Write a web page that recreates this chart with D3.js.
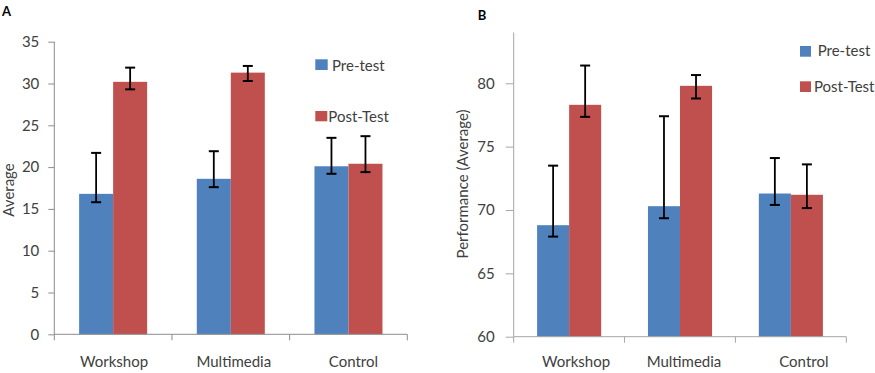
<!DOCTYPE html>
<html><head><meta charset="utf-8">
<script src="https://cdn.jsdelivr.net/npm/d3@7"></script>
<style>
html,body{margin:0;padding:0;background:#fff;}
text{font-family:Lato, "Open Sans", sans-serif;fill:#404040;}
</style></head>
<body><svg id="chart" width="875" height="373"></svg>
<script>
const categories = ["Workshop", "Multimedia", "Control"];
const series = ["Pre-test", "Post-Test"];
const colors = ["#4F81BD", "#C0504D"];

// Panel A
const aPre = [16.8, 18.6, 20.1];
const aPost = [30.2, 31.3, 20.4];
const aPreHi = [21.7, 21.9, 23.5];
const aPreLo = [15.8, 17.6, 19.2];
const aPostHi = [31.9, 32.1, 23.7];
const aPostLo = [29.3, 30.3, 19.4];
const aTicks = [0, 5, 10, 15, 20, 25, 30, 35];

// Panel B
const bPre = [68.8, 70.3, 71.3];
const bPost = [78.3, 79.8, 71.2];
const bPreHi = [73.5, 77.4, 74.1];
const bPreLo = [67.9, 69.35, 70.4];
const bPostHi = [81.4, 80.65, 73.6];
const bPostLo = [77.35, 78.8, 70.15];
const bTicks = [60, 65, 70, 75, 80];

const svg = d3.select("#chart");

function panel(cfg) {
  const g = svg.append("g");
  const y = d3.scaleLinear().domain(cfg.domain).range([cfg.bottom, cfg.top]);
  const x0 = d3.scaleBand().domain(categories).range([cfg.left, cfg.right]).padding(0);
  const x1 = d3.scaleBand().domain(series).range([0, x0.bandwidth()]).paddingInner(0).paddingOuter(0.73);
  const vals = [cfg.pre, cfg.post];
  const hi = [cfg.preHi, cfg.postHi];
  const lo = [cfg.preLo, cfg.postLo];

  // y axis
  const ya = d3.axisLeft(y).tickValues(cfg.ticks).tickSize(cfg.tickLen).tickPadding(cfg.tickPad);
  const yg = g.append("g").attr("transform", `translate(${cfg.left},0)`).call(ya);
  yg.select(".domain").remove();
  yg.selectAll(".tick line").attr("stroke", cfg.axisColor);
  yg.selectAll(".tick text").attr("font-size", cfg.tickFont).style("font-family", "Lato").attr("fill", "#404040");
  g.append("line").attr("x1", cfg.left).attr("x2", cfg.left).attr("y1", y(cfg.domain[0])).attr("y2", y(cfg.domain[1]))
    .attr("stroke", cfg.axisColor).attr("stroke-width", 1);

  // bars
  series.forEach((s, si) => {
    g.selectAll(null).data(categories).enter().append("rect")
      .attr("x", c => x0(c) + x1(s))
      .attr("y", (c, i) => y(vals[si][i]))
      .attr("width", x1.bandwidth())
      .attr("height", (c, i) => y(cfg.domain[0]) - y(vals[si][i]))
      .attr("fill", colors[si]);
  });

  // x axis
  g.append("line").attr("x1", cfg.left).attr("x2", cfg.right).attr("y1", y(cfg.domain[0])).attr("y2", y(cfg.domain[0]))
    .attr("stroke", cfg.axisColor).attr("stroke-width", 1);
  const bounds = categories.map(c => x0(c)).concat([cfg.right]);
  g.selectAll(null).data(bounds).enter().append("line")
    .attr("x1", d => d).attr("x2", d => d)
    .attr("y1", y(cfg.domain[0])).attr("y2", y(cfg.domain[0]) + 6)
    .attr("stroke", cfg.axisColor);
  g.selectAll(null).data(categories).enter().append("text")
    .attr("x", (c, i) => x0(c) + x0.bandwidth() / 2 + cfg.catDx[i])
    .attr("y", cfg.catY)
    .attr("text-anchor", "middle")
    .attr("font-size", cfg.catFont)
    .text(c => c);

  // error bars
  const cap = 5;
  series.forEach((s, si) => {
    const eg = g.selectAll(null).data(categories).enter().append("g");
    const cx = c => x0(c) + x1(s) + x1.bandwidth() / 2;
    eg.append("line").attr("x1", cx).attr("x2", cx)
      .attr("y1", (c, i) => y(hi[si][i])).attr("y2", (c, i) => y(lo[si][i]))
      .attr("stroke", "#000").attr("stroke-width", 1.8);
    eg.append("line").attr("x1", c => cx(c) - cap).attr("x2", c => cx(c) + cap)
      .attr("y1", (c, i) => y(hi[si][i])).attr("y2", (c, i) => y(hi[si][i]))
      .attr("stroke", "#000").attr("stroke-width", 2);
    eg.append("line").attr("x1", c => cx(c) - cap).attr("x2", c => cx(c) + cap)
      .attr("y1", (c, i) => y(lo[si][i])).attr("y2", (c, i) => y(lo[si][i]))
      .attr("stroke", "#000").attr("stroke-width", 2);
  });

  // y label
  g.append("text")
    .attr("transform", `translate(${cfg.ylabX},${cfg.ylabY}) rotate(-90)`)
    .attr("text-anchor", "middle")
    .attr("font-size", cfg.ylabFont)
    .text(cfg.ylabel);

  // panel letter
  g.append("text").attr("x", cfg.letterX).attr("y", cfg.letterY)
    .attr("font-size", 13).attr("font-weight", "bold").style("fill", "#000")
    .text(cfg.letter);

  // legend
  series.forEach((s, si) => {
    const L = cfg.legend[si];
    g.append("rect").attr("x", L.x).attr("y", L.y).attr("width", L.w).attr("height", L.h).attr("fill", colors[si]);
    g.append("text").attr("x", L.tx).attr("y", L.ty).attr("font-size", cfg.legFont).text(s);
  });
}

panel({
  domain: [0, 35], ticks: aTicks, top: 41.7, bottom: 334.3, left: 54.3, right: 407.3,
  pre: aPre, post: aPost, preHi: aPreHi, preLo: aPreLo, postHi: aPostHi, postLo: aPostLo,
  tickLen: 6, tickPad: 9, tickFont: 15, axisColor: "#8c8c8c",
  catY: 367, catFont: 15, catDx: [1, 3, 5],
  ylabel: "Average", ylabX: 13.5, ylabY: 190, ylabFont: 15,
  letter: "A", letterX: 2, letterY: 15.7,
  legFont: 15,
  legend: [
    {x: 315.3, y: 59.3, w: 12.4, h: 10.7, tx: 332, ty: 71},
    {x: 315.3, y: 111, w: 12, h: 10.3, tx: 328.3, ty: 122}
  ]
});

panel({
  domain: [60, 84], ticks: bTicks, top: 32.6, bottom: 336.7, left: 513.7, right: 846.3,
  pre: bPre, post: bPost, preHi: bPreHi, preLo: bPreLo, postHi: bPostHi, postLo: bPostLo,
  tickLen: 8, tickPad: 11, tickFont: 15, axisColor: "#a6a6a6",
  catY: 367, catFont: 15, catDx: [7, 4, 13],
  ylabel: "Performance (Average)", ylabX: 468, ylabY: 184, ylabFont: 15,
  letter: "B", letterX: 477.7, letterY: 20,
  legFont: 15,
  legend: [
    {x: 800, y: 46, w: 11, h: 10.7, tx: 817.7, ty: 56},
    {x: 800, y: 81.3, w: 11, h: 10.7, tx: 814, ty: 92}
  ]
});
</script>
</body></html>
